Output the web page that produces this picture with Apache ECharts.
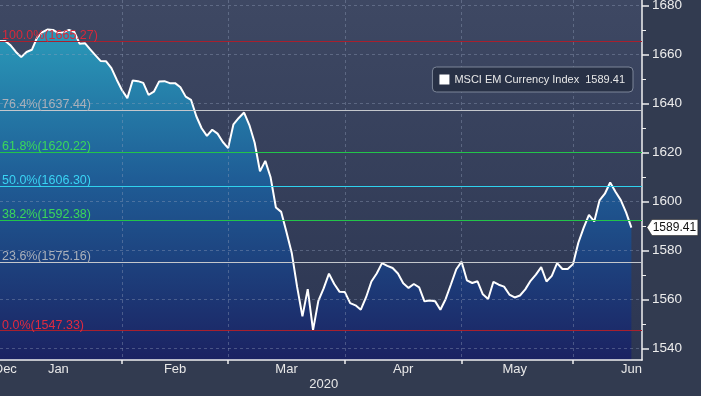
<!DOCTYPE html>
<html><head><meta charset="utf-8">
<script src="https://cdn.jsdelivr.net/npm/echarts@6/dist/echarts.min.js"></script>
<style>html,body{margin:0;padding:0;background:#323b50;}#c{width:701px;height:396px;}</style>
</head><body><div id="c"></div>
<script>
// ---------- data ----------
const seriesName = 'MSCI EM Currency Index';
const lastValue = 1589.41;
const values = [
  1665.5,1665.5,1663.7,1661.0,1658.9,1661.0,1661.9,1666.9,1669.1,1670.2,
  1670.0,1668.7,1669.1,1670.0,1669.2,1664.4,1664.6,1662.1,1659.6,1657.3,
  1657.2,1654.4,1649.7,1645.4,1642.2,1649.4,1649.1,1648.4,1643.5,1644.8,
  1649.0,1649.1,1648.3,1648.3,1646.6,1642.8,1641.5,1634.8,1629.9,1626.8,
  1629.3,1627.7,1624.3,1621.8,1631.5,1634.1,1636.3,1631.2,1624.0,1612.3,
  1616.6,1609.9,1597.6,1595.8,1587.5,1578.9,1565.2,1553.2,1564.3,1547.6,
  1559.5,1564.6,1570.6,1566.4,1563.2,1563.1,1558.6,1557.7,1555.9,1561.0,
  1567.4,1570.7,1574.9,1573.8,1572.9,1570.7,1566.7,1564.8,1566.4,1565.0,
  1559.3,1559.7,1559.4,1555.9,1560.3,1566.3,1572.4,1575.5,1567.9,1566.8,
  1567.5,1562.2,1560.3,1567.3,1566.1,1565.3,1562.1,1560.9,1561.7,1564.2,
  1567.7,1570.2,1573.3,1567.4,1569.7,1574.9,1572.5,1572.5,1574.5,1583.2,
  1589.3,1594.6,1591.9,1600.5,1603.2,1607.8,1604.0,1600.6,1595.6,1589.41
];
const categoryCount = 122;               // weekdays shown on the axis
const firstDay = '2020-01-01';
const monthTickIdx = [23, 43, 65, 87, 108];
const monthLabelIdx = [1, 11, 33, 54, 76, 97, 119];
const monthLabels = ['Dec', 'Jan', 'Feb', 'Mar', 'Apr', 'May', 'Jun'];
const yearLabelIdx = 61;
const yearLabel = '2020';
const yTicks = [1540, 1560, 1580, 1600, 1620, 1640, 1660, 1680];
const yMinorTicks = [1550, 1570, 1590, 1610, 1630, 1650, 1670];
const fibNames = ['100.0%', '76.4%', '61.8%', '50.0%', '38.2%', '23.6%', '0.0%'];
const fibValues = [1665.27, 1637.44, 1620.22, 1606.30, 1592.38, 1575.16, 1547.33];

// ---------- styles ----------
const fibLineColors = ['#a8202e', '#c4c7cc', '#22c44a', '#2fd2ee', '#22c44a', '#c4c7cc', '#a8202e'];
const fibLabelColors = ['#d8283a', '#aab0ba', '#3ad85a', '#3ad4f4', '#3ad85a', '#aab0ba', '#e02a40'];
const FONT = 'Liberation Sans, Arial, sans-serif';

const categories = [];
{
  const d = new Date(firstDay + 'T00:00:00Z');
  while (categories.length < categoryCount) {
    const wd = d.getUTCDay();
    if (wd !== 0 && wd !== 6) categories.push(d.toISOString().slice(0, 10));
    d.setUTCDate(d.getUTCDate() + 1);
  }
}
const labelMap = {};
monthLabelIdx.forEach((idx, i) => { labelMap[idx] = monthLabels[i]; });

const chart = echarts.init(document.getElementById('c'), null, {renderer: 'canvas'});
const gridLine = {show: true, lineStyle: {color: 'rgba(150,162,190,0.38)', type: [3, 3], width: 1}};

chart.setOption({
  backgroundColor: '#323b50',
  animation: false,
  textStyle: {fontFamily: FONT},
  grid: {
    left: 0, right: 59, top: 0, bottom: 36, show: true, borderWidth: 0,
    outerBoundsMode: 'none', containLabel: false,
    backgroundColor: new echarts.graphic.LinearGradient(0, 0, 0, 1, [
      {offset: 0, color: '#3e4863'}, {offset: 1, color: '#2c3652'}])
  },
  legend: {
    right: 68, top: 67,
    padding: [7, 8, 7, 7],
    backgroundColor: '#283146', borderColor: '#7d8699', borderWidth: 1, borderRadius: 4,
    itemWidth: 10, itemHeight: 10, icon: 'rect',
    data: [{name: seriesName, itemStyle: {color: '#ffffff'}}],
    textStyle: {color: '#e8e8e8', fontSize: 11, fontFamily: FONT},
    formatter: name => name + '  ' + lastValue.toFixed(2)
  },
  xAxis: [{
    type: 'category', data: categories, boundaryGap: false, z: 3,
    axisLine: {show: true, lineStyle: {color: '#f0f0f0', width: 1.5}},
    axisTick: {show: true, length: 4, interval: idx => monthTickIdx.includes(idx),
      lineStyle: {color: '#f0f0f0', width: 1.5}},
    splitLine: Object.assign({interval: idx => monthTickIdx.includes(idx)}, gridLine),
    axisLabel: {show: true, margin: 3, color: '#e8e8e8', fontSize: 13, fontFamily: FONT,
      interval: idx => labelMap[idx] !== undefined,
      formatter: (v, idx) => labelMap[idx] || ''}
  }, {
    type: 'category', data: categories, boundaryGap: false, position: 'bottom', offset: 15,
    axisLine: {show: false}, axisTick: {show: false}, splitLine: {show: false},
    axisLabel: {show: true, margin: 3, color: '#e8e8e8', fontSize: 13, fontFamily: FONT,
      interval: idx => idx === yearLabelIdx, formatter: () => yearLabel}
  }],
  yAxis: [{
    type: 'value', position: 'right', min: 1535.4, max: 1682.2, splitNumber: 7, z: 3,
    axisLine: {show: true, lineStyle: {color: '#f0f0f0', width: 1.5}},
    axisTick: {show: true, length: 7, customValues: yTicks, lineStyle: {color: '#f0f0f0', width: 1.5}},
    axisLabel: {show: true, margin: 10, customValues: yTicks, color: '#ececec', fontSize: 13.5,
      fontFamily: FONT, formatter: v => String(v)},
    splitLine: gridLine
  }, {
    type: 'value', position: 'right', min: 1535.4, max: 1682.2, splitNumber: 7,
    axisLine: {show: false},
    axisTick: {show: true, length: 4, customValues: yMinorTicks, lineStyle: {color: '#f0f0f0', width: 1}},
    axisLabel: {show: false}, splitLine: {show: false}
  }],
  series: [{
    name: seriesName, type: 'line', data: values, xAxisIndex: 0, yAxisIndex: 0,
    color: '#ffffff', clip: false, z: 2,
    symbol: 'none', showSymbol: false,
    lineStyle: {color: '#ffffff', width: 2},
    itemStyle: {color: '#ffffff'},
    areaStyle: {
      origin: 'start', opacity: 1,
      color: new echarts.graphic.LinearGradient(0, 0, 0, 1, [
        {offset: 0, color: '#2a9ab9'},
        {offset: 0.45, color: '#1f5d96'},
        {offset: 1, color: '#1b2262'}])
    },
    markLine: {
      silent: true, symbol: 'none', animation: false,
      data: fibValues.map((v, i) => ({
        yAxis: v,
        lineStyle: {color: fibLineColors[i], width: 1.2, type: 'solid'},
        label: {show: true, position: 'insideStartTop', distance: [2, -1], padding: 0,
          color: fibLabelColors[i], fontSize: 12.5, fontFamily: FONT,
          formatter: fibNames[i] + '(' + v.toFixed(2) + ')'}
      }))
    },
    markPoint: {
      silent: true, animation: false,
      data: [{coord: [values.length - 1, lastValue], value: lastValue}],
      symbol: 'path://M0,8 L5,0 L50,0 L50,16 L5,16 Z',
      symbolSize: [51, 16], symbolOffset: [41, 0], symbolKeepAspect: false,
      itemStyle: {color: '#ffffff', borderColor: '#222', borderWidth: 0.5},
      label: {show: true, position: 'inside', offset: [2, 0], color: '#111111',
        fontSize: 12, fontFamily: FONT, formatter: () => lastValue.toFixed(2)}
    }
  }]
});
</script></body></html>
